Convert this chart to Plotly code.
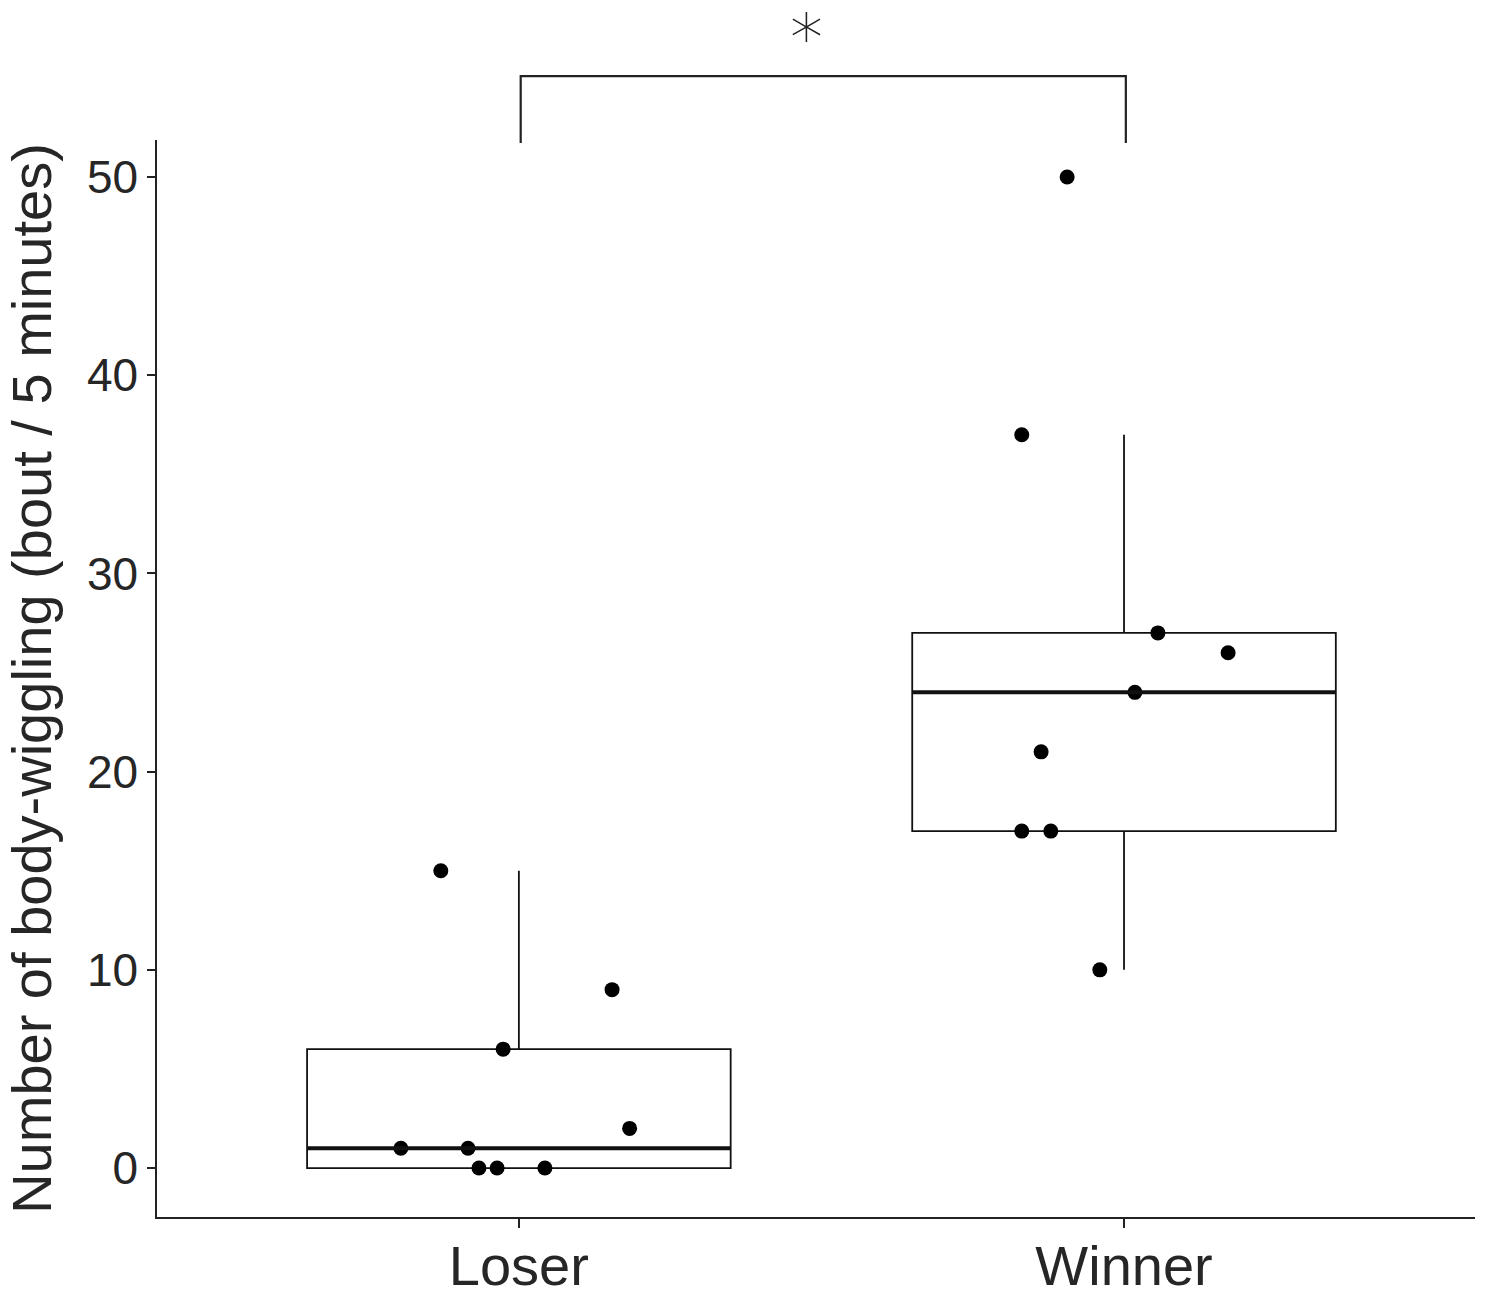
import numpy as np
import plotly.graph_objects as go

categories = ["Loser", "Winner"]
loser_values = [1, 15, 1, 0, 0, 6, 0, 9, 2]
loser_jitter = [-0.195, -0.129, -0.084, -0.066, -0.036, -0.026, 0.043, 0.154, 0.183]
winner_values = [50, 37, 27, 26, 24, 21, 17, 17, 10]
winner_jitter = [-0.094, -0.169, 0.056, 0.172, 0.018, -0.137, -0.169, -0.121, -0.040]
y_ticks = [0, 10, 20, 30, 40, 50]
y_title = "Number of body-wiggling (bout / 5 minutes)"
sig_label = "*"

X_RANGE = [-0.598, 1.580]
Y_RANGE = [-2.47, 51.87]
BOX_W = 0.7
TXT = "#262626"
FONT = "Liberation Sans, Arial, sans-serif"

groups = [loser_values, winner_values]
jitters = [loser_jitter, winner_jitter]


def box_stats(vals):
    a = np.asarray(vals, dtype=float)
    q1, med, q3 = np.percentile(a, [25, 50, 75])
    iqr = q3 - q1
    lo = a[a >= q1 - 1.5 * iqr].min()
    hi = a[a <= q3 + 1.5 * iqr].max()
    return q1, med, q3, lo, hi


fig = go.Figure()
for i, vals in enumerate(groups):
    q1, med, q3, lo, hi = box_stats(vals)
    fig.add_trace(go.Box(
        x=[i], q1=[q1], median=[med], q3=[q3],
        lowerfence=[lo], upperfence=[hi], width=BOX_W,
        boxpoints=False,
        fillcolor="white", line=dict(color="#111111", width=1.8),
        whiskerwidth=0, showlegend=False, hoverinfo="skip",
    ))
    fig.add_shape(type="line", xref="x", yref="y",
                  x0=i - BOX_W / 2, x1=i + BOX_W / 2, y0=med, y1=med,
                  line=dict(color="#111111", width=4), layer="above")

for i, (vals, jit) in enumerate(zip(groups, jitters)):
    fig.add_trace(go.Scatter(
        x=[i + j for j in jit], y=vals, mode="markers",
        marker=dict(color="black", size=15),
        showlegend=False, cliponaxis=False,
    ))


def xpaper(v):
    return (v - X_RANGE[0]) / (X_RANGE[1] - X_RANGE[0])


# significance bracket
yb_top, yb_bot = 1.0594, 0.9972
x0p, x1p = xpaper(0.003), xpaper(1.003)
fig.add_shape(type="path", xref="paper", yref="paper",
              path=f"M {x0p},{yb_bot} L {x0p},{yb_top} L {x1p},{yb_top} L {x1p},{yb_bot}",
              line=dict(color="#222222", width=2.2))
fig.add_annotation(x=xpaper(0.476), y=1.0943, xref="paper", yref="paper",
                   text=sig_label, showarrow=False,
                   font=dict(family="DejaVu Sans", size=66, color="#222222", weight=200),
                   xanchor="center", yanchor="middle")

fig.update_layout(
    width=1486, height=1300,
    margin=dict(l=157, r=11, t=140, b=83),
    plot_bgcolor="white", paper_bgcolor="white",
    font=dict(family=FONT, color=TXT),
)
fig.update_xaxes(
    range=X_RANGE, tickvals=[0, 1], ticktext=categories, automargin=False,
    showline=True, linecolor="#222222", linewidth=1.5,
    ticks="outside", ticklen=9, tickwidth=1.5, tickcolor="#222222",
    showgrid=False, zeroline=False, ticklabelstandoff=-10,
    tickfont=dict(size=56, color=TXT, family=FONT),
)
fig.update_yaxes(
    range=Y_RANGE, tickvals=y_ticks, automargin=False,
    showline=True, linecolor="#222222", linewidth=1.5,
    ticks="outside", ticklen=8, tickwidth=1.5, tickcolor="#222222",
    showgrid=False, zeroline=False,
    tickfont=dict(size=46, color=TXT, family=FONT),
    title=dict(text=y_title, font=dict(size=56, color=TXT, family=FONT), standoff=20),
)

fig.write_html("out.html", config={"displayModeBar": False},
               post_script="document.body.style.margin='0px';")
